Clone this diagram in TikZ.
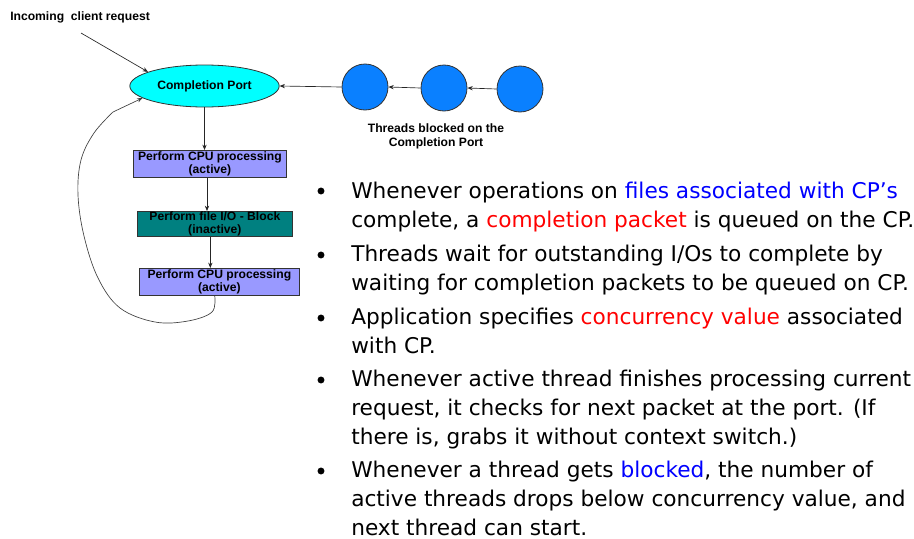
\documentclass[tikz,border=0pt]{standalone}
\usepackage{fontspec}
\setmainfont{DejaVu Sans}
\newfontfamily\diagfont{Liberation Sans}
\usetikzlibrary{shapes.geometric,arrows.meta}
\definecolor{cpcyan}{HTML}{00FFFF}
\definecolor{thblue}{HTML}{0A80FF}
\definecolor{cpuviolet}{HTML}{9999FF}
\definecolor{ioteal}{HTML}{008080}
\definecolor{edgegray}{HTML}{333333}
\definecolor{hlblue}{HTML}{0000FF}
\definecolor{hlred}{HTML}{FF0000}
\begin{document}
\begin{tikzpicture}[x=0.75pt,y=-0.75pt,
  lbl/.style={font=\diagfont\bfseries\fontsize{9.1pt}{10.5pt}\selectfont, align=center, inner sep=0},
  box/.style={draw=edgegray, line width=0.6pt, font=\diagfont\bfseries\fontsize{9.1pt}{9.7pt}\selectfont, align=center, inner sep=0, anchor=north west},
  thread/.style={circle, draw=edgegray, line width=0.6pt, fill=thblue, minimum size=34.5pt, inner sep=0},
  arr/.style={draw=black!85, line width=0.5pt, -{Stealth[length=4pt,width=3.2pt]}},
  bul/.style={circle, fill=black, minimum size=5.2pt, inner sep=0},
  btxt/.style={font=\fontsize{16.25pt}{21.4pt}\selectfont, align=left, anchor=base west, inner sep=0}
  ]
\useasboundingbox (0,0) rectangle (914,539);

% diagram
\node[lbl, anchor=base west] (inc) at (10,20) {Incoming\ \ client request};
\coordinate (incStart) at (81,33);
\node[ellipse, draw=edgegray, line width=0.6pt, fill=cpcyan, minimum width=112pt, minimum height=31.5pt, inner sep=0,
      font=\diagfont\bfseries\fontsize{9.1pt}{10pt}\selectfont] (cp) at (204.5,86) {Completion Port};

\node[thread] (t1) at (365,87) {};
\node[thread] (t2) at (444,88) {};
\node[thread] (t3) at (520,89) {};
\node[lbl] (tlab) at (436,136) {Threads blocked on the\\Completion Port};

\node[box, fill=cpuviolet, minimum width=114.8pt, minimum height=20.5pt] (b1) at (133,150) {Perform CPU processing\\(active)};
\node[box, fill=ioteal, minimum width=116.2pt, minimum height=19pt] (b2) at (137,211) {Perform file I/O - Block\\(inactive)};
\node[box, fill=cpuviolet, minimum width=120pt, minimum height=20.3pt] (b3) at (139,268) {Perform CPU processing\\(active)};

\draw[arr] (incStart) -- (cp.166);
\draw[arr] (t3.west) -- (t2.east);
\draw[arr] (t2.west) -- (t1.east);
\draw[arr] (t1.west) -- (cp.east);
\draw[arr] (cp.south) -- (cp.south |- b1.north);
\draw[arr] ([xshift=-2.2pt]b1.south) -- ([xshift=-2.2pt]b1.south |- b2.north);
\draw[arr] ([xshift=-3.4pt]b2.south) -- ([xshift=-3.4pt]b2.south |- b3.north);
\coordinate (loopStart) at ([xshift=-3.5pt]b3.south);
\draw[arr, draw=black!75] plot[smooth, tension=0.6] coordinates {(loopStart) (212,312) (188,321) (155,322) (120,308) (98,278) (84,236) (78,195) (81,160) (94,133) (113,112)} -- (cp.191);

% bullets
\node[bul] (d1) at (321,191) {};
\node[btxt] (p1) at (351,227) {Whenever operations on \textcolor{hlblue}{files associated with CP’s}\\complete, a \textcolor{hlred}{completion packet} is queued on the CP.};
\node[bul] (d2) at (321,255) {};
\node[btxt] (p2) at (351,290) {Threads wait for outstanding I/Os to complete by\\waiting for completion packets to be queued on CP.};
\node[bul] (d3) at (321,318) {};
\node[btxt] (p3) at (351,353) {Application specifies \textcolor{hlred}{concurrency value} associated\\with CP.};
\node[bul] (d4) at (321,380) {};
\node[btxt] (p4) at (351,444) {Whenever active thread finishes processing current\\request, it checks for next packet at the port. (If\\there is, grabs it without context switch.)};
\node[bul] (d5) at (321,471) {};
\node[btxt] (p5) at (351,535) {Whenever a thread gets \textcolor{hlblue}{blocked}, the number of\\active threads drops below concurrency value, and\\next thread can start.};
\end{tikzpicture}
\end{document}
